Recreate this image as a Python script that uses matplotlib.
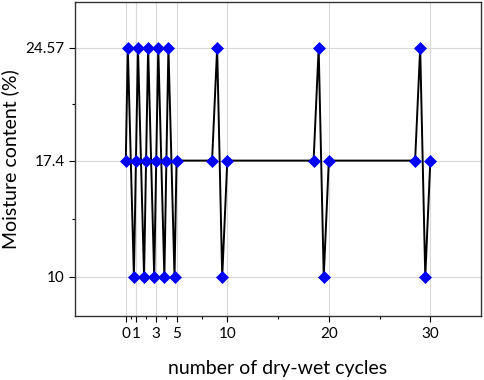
import matplotlib
matplotlib.use('Agg')
import matplotlib.pyplot as plt
from matplotlib.ticker import FixedLocator

plt.rcParams['font.family'] = ['Lato', 'DejaVu Sans']

# cycle number vs moisture content
cycles = [0, 0.2, 0.8, 1, 1.2, 1.8, 2, 2.2, 2.8, 3, 3.2, 3.8, 4, 4.2, 4.8, 5,
          8.5, 9, 9.5, 10,
          18.5, 19, 19.5, 20,
          28.5, 29, 29.5, 30]
moisture = [17.4, 24.57, 10, 17.4, 24.57, 10, 17.4, 24.57, 10, 17.4, 24.57, 10,
            17.4, 24.57, 10, 17.4,
            17.4, 24.57, 10, 17.4,
            17.4, 24.57, 10, 17.4,
            17.4, 24.57, 10, 17.4]

x_ticks = [0, 1, 3, 5, 10, 20, 30]
x_minor = [0.5, 2, 4, 7.5, 15, 25]
y_ticks = [10, 17.4, 24.57]
y_tick_labels = ['10', '17.4', '24.57']
y_minor = [13.7, 20.985]

fig = plt.figure(figsize=(4.84, 3.80), dpi=100)
ax = fig.add_axes([0.155, 0.168, 0.839, 0.827])

ax.plot(cycles, moisture, color='black', lw=1.4, marker='D', ms=5.8,
        mfc='#0000ff', mec='#0000ff', mew=0.5, zorder=3)

ax.set_xlim(-5, 35)
ax.set_ylim(7.5, 27.5)
ax.set_xticks(x_ticks)
ax.set_xticklabels([str(t) for t in x_ticks])
ax.xaxis.set_minor_locator(FixedLocator(x_minor))
ax.set_yticks(y_ticks)
ax.set_yticklabels(y_tick_labels)
ax.yaxis.set_minor_locator(FixedLocator(y_minor))

ax.grid(True, which='major', color='#d9d9d9', lw=0.8, zorder=0)
ax.set_axisbelow(True)
ax.tick_params(which='major', direction='out', length=4.5, width=0.8,
               labelsize=11, colors='black', pad=3)
ax.tick_params(which='minor', direction='out', length=2.5, width=0.8)
for s in ax.spines.values():
    s.set_color('#333333')
    s.set_linewidth(1.0)

ax.set_xlabel('number of dry-wet cycles', fontsize=14)
ax.set_ylabel('Moisture content (%)', fontsize=14)
ax.xaxis.set_label_coords(0.5, -0.14)
ax.yaxis.set_label_coords(-0.138, 0.5)

fig.savefig('out.png', dpi=100)
